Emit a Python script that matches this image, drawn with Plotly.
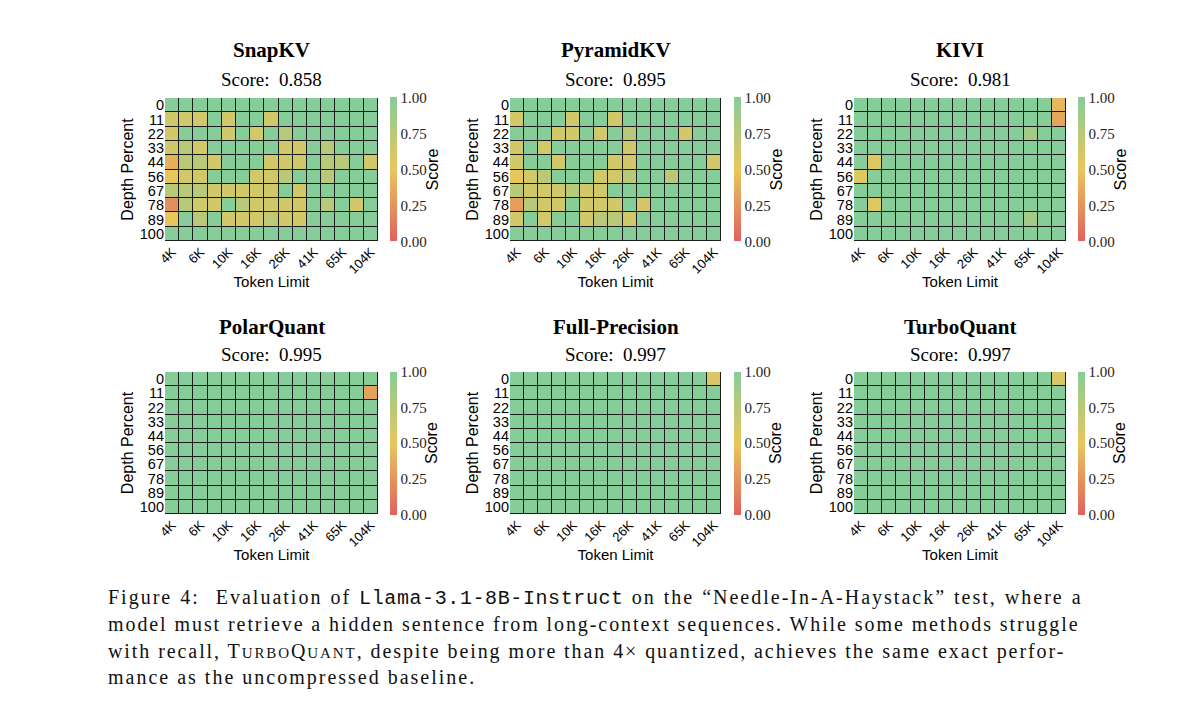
import plotly.graph_objects as go

# ---------------- data ----------------
token_limits = ["4K", "5K", "6K", "8K", "10K", "13K", "16K", "20K", "26K", "32K",
                "41K", "52K", "65K", "82K", "104K"]
x_tick_labels = ["4K", "6K", "10K", "16K", "26K", "41K", "65K", "104K"]
depth_percents = ["0", "11", "22", "33", "44", "56", "67", "78", "89", "100"]

methods = ["SnapKV", "PyramidKV", "KIVI", "PolarQuant", "Full-Precision", "TurboQuant"]
scores = ["0.858", "0.895", "0.981", "0.995", "0.997", "0.997"]

snapkv = [
    [1, 1, 1, 1, 1, 1, 1, 1, 1, 1, 1, 1, 1, 1, 1],
    [.62, .62, .62, 1, .62, 1, 1, .62, 1, 1, 1, 1, 1, 1, 1],
    [.62, 1, 1, 1, .62, 1, .62, 1, .75, 1, 1, 1, 1, 1, 1],
    [.62, .75, .62, 1, 1, 1, 1, 1, .62, .62, 1, .75, 1, 1, 1],
    [.38, .75, .75, .62, 1, 1, 1, .62, .62, .62, 1, .75, .75, 1, .62],
    [.5, .62, .62, 1, 1, 1, .62, .62, .75, 1, 1, .75, 1, 1, 1],
    [.75, .75, .75, .62, .62, .62, .62, .62, 1, .62, 1, 1, 1, 1, 1],
    [.22, .75, .62, .62, 1, .75, .62, .62, .62, .62, 1, .75, 1, .62, 1],
    [.5, 1, .75, 1, .62, .62, .62, .7, .62, .62, 1, 1, 1, 1, 1],
    [1, 1, 1, 1, 1, 1, 1, 1, 1, 1, 1, 1, 1, 1, 1],
]
pyramidkv = [
    [1, 1, 1, 1, 1, 1, 1, 1, 1, 1, 1, 1, 1, 1, 1],
    [.62, 1, 1, 1, .62, 1, 1, .62, 1, 1, 1, 1, 1, 1, 1],
    [1, 1, 1, .62, .62, 1, .62, 1, .75, 1, 1, 1, .62, 1, 1],
    [.62, 1, .62, 1, 1, 1, 1, 1, .62, 1, 1, 1, 1, 1, 1],
    [.62, 1, 1, .62, 1, 1, 1, .62, .62, 1, 1, 1, 1, 1, .62],
    [.5, .62, .75, 1, 1, 1, .62, .62, .75, 1, 1, .75, 1, 1, 1],
    [.75, .62, .62, .62, .75, .62, .62, 1, 1, 1, 1, 1, 1, 1, 1],
    [.3, .75, .62, .62, 1, .62, .62, .62, 1, .6, 1, 1, 1, 1, 1],
    [.62, 1, .62, 1, 1, .62, .75, .75, .62, 1, 1, 1, 1, 1, 1],
    [1, 1, 1, 1, 1, 1, 1, 1, 1, 1, 1, 1, 1, 1, 1],
]
kivi = [
    [1, 1, 1, 1, 1, 1, 1, 1, 1, 1, 1, 1, 1, 1, .42],
    [1, 1, 1, 1, 1, 1, 1, 1, 1, 1, 1, 1, 1, 1, .33],
    [1, 1, 1, 1, 1, 1, 1, 1, 1, 1, 1, 1, .85, 1, 1],
    [1, 1, 1, 1, 1, 1, 1, 1, 1, 1, 1, 1, 1, 1, 1],
    [1, .55, 1, 1, 1, 1, 1, 1, 1, 1, 1, 1, 1, 1, 1],
    [.55, 1, 1, 1, 1, 1, 1, 1, 1, 1, 1, 1, 1, 1, 1],
    [1, 1, 1, 1, 1, 1, 1, 1, 1, 1, 1, 1, 1, 1, 1],
    [1, .55, 1, 1, 1, 1, 1, 1, 1, 1, 1, 1, 1, 1, 1],
    [1, 1, 1, 1, 1, 1, 1, 1, 1, 1, 1, 1, .85, 1, 1],
    [1, 1, 1, 1, 1, 1, 1, 1, 1, 1, 1, 1, 1, 1, 1],
]
polarquant = [
    [1, 1, 1, 1, 1, 1, 1, 1, 1, 1, 1, 1, 1, 1, 1],
    [1, 1, 1, 1, 1, 1, 1, 1, 1, 1, 1, 1, 1, 1, .32],
    [1, 1, 1, 1, 1, 1, 1, 1, 1, 1, 1, 1, 1, 1, 1],
    [1, 1, 1, 1, 1, 1, 1, 1, 1, 1, 1, 1, 1, 1, 1],
    [1, 1, 1, 1, 1, 1, 1, 1, 1, 1, 1, 1, 1, 1, 1],
    [1, 1, 1, 1, 1, 1, 1, 1, 1, 1, 1, 1, 1, 1, 1],
    [1, 1, 1, 1, 1, 1, 1, 1, 1, 1, 1, 1, 1, 1, 1],
    [1, 1, 1, 1, 1, 1, 1, 1, 1, 1, 1, 1, 1, 1, 1],
    [1, 1, 1, 1, 1, 1, 1, 1, 1, 1, 1, 1, 1, 1, 1],
    [1, 1, 1, 1, 1, 1, 1, 1, 1, 1, 1, 1, 1, 1, 1],
]
full_precision = [
    [1, 1, 1, 1, 1, 1, 1, 1, 1, 1, 1, 1, 1, 1, .58],
    [1, 1, 1, 1, 1, 1, 1, 1, 1, 1, 1, 1, 1, 1, 1],
    [1, 1, 1, 1, 1, 1, 1, 1, 1, 1, 1, 1, 1, 1, 1],
    [1, 1, 1, 1, 1, 1, 1, 1, 1, 1, 1, 1, 1, 1, 1],
    [1, 1, 1, 1, 1, 1, 1, 1, 1, 1, 1, 1, 1, 1, 1],
    [1, 1, 1, 1, 1, 1, 1, 1, 1, 1, 1, 1, 1, 1, 1],
    [1, 1, 1, 1, 1, 1, 1, 1, 1, 1, 1, 1, 1, 1, 1],
    [1, 1, 1, 1, 1, 1, 1, 1, 1, 1, 1, 1, 1, 1, 1],
    [1, 1, 1, 1, 1, 1, 1, 1, 1, 1, 1, 1, 1, 1, 1],
    [1, 1, 1, 1, 1, 1, 1, 1, 1, 1, 1, 1, 1, 1, 1],
]
turboquant = [
    [1, 1, 1, 1, 1, 1, 1, 1, 1, 1, 1, 1, 1, 1, .58],
    [1, 1, 1, 1, 1, 1, 1, 1, 1, 1, 1, 1, 1, 1, 1],
    [1, 1, 1, 1, 1, 1, 1, 1, 1, 1, 1, 1, 1, 1, 1],
    [1, 1, 1, 1, 1, 1, 1, 1, 1, 1, 1, 1, 1, 1, 1],
    [1, 1, 1, 1, 1, 1, 1, 1, 1, 1, 1, 1, 1, 1, 1],
    [1, 1, 1, 1, 1, 1, 1, 1, 1, 1, 1, 1, 1, 1, 1],
    [1, 1, 1, 1, 1, 1, 1, 1, 1, 1, 1, 1, 1, 1, 1],
    [1, 1, 1, 1, 1, 1, 1, 1, 1, 1, 1, 1, 1, 1, 1],
    [1, 1, 1, 1, 1, 1, 1, 1, 1, 1, 1, 1, 1, 1, 1],
    [1, 1, 1, 1, 1, 1, 1, 1, 1, 1, 1, 1, 1, 1, 1],
]
matrices = [snapkv, pyramidkv, kivi, polarquant, full_precision, turboquant]

# ---------------- layout helpers (pixels) ----------------
W, H = 1200, 721
col_x = [(165, 378), (510, 721), (854, 1066)]
cb_left = [390, 734, 1078]
row_y = [(98, 241), (372, 514)]
title_y = [(50, 80), (327, 354)]

colorscale = [[0.0, "#E0625F"], [0.5, "#E9C65B"], [1.0, "#86CD99"]]
SERIF = "Liberation Serif"
SANS = "Liberation Sans"

def px_x(v):
    return v / W

def px_y(v):
    return 1 - v / H

fig = go.Figure()
annotations = []
layout_axes = {}

for i, (name, z, score) in enumerate(zip(methods, matrices, scores)):
    r, c = divmod(i, 3)
    x0, x1 = col_x[c]
    ytop, ybot = row_y[r]
    n = i + 1
    xa = "x" if n == 1 else f"x{n}"
    ya = "y" if n == 1 else f"y{n}"
    fig.add_trace(go.Heatmap(
        z=z, x=token_limits, y=depth_percents,
        xaxis=xa, yaxis=ya,
        zmin=0, zmax=1, colorscale=colorscale,
        xgap=1, ygap=1,
        colorbar=dict(
            x=px_x(cb_left[c]), xanchor="left",
            y=(px_y(ytop) + px_y(ybot)) / 2, yanchor="middle",
            len=(ybot - ytop + 1) / H, lenmode="fraction",
            thickness=7, thicknessmode="pixels",
            xpad=0, ypad=0, outlinewidth=0,
            tickvals=[0, 0.25, 0.5, 0.75, 1.0],
            ticktext=["0.00", "0.25", "0.50", "0.75", "1.00"],
            ticks="", ticklen=0,
            tickfont=dict(family=SERIF, size=15, color="#222"),
        ),
    ))
    xkey = "xaxis" if n == 1 else f"xaxis{n}"
    ykey = "yaxis" if n == 1 else f"yaxis{n}"
    layout_axes[xkey] = dict(
        domain=[px_x(x0), px_x(x1)], anchor=ya, automargin=False,
        tickmode="array", tickvals=x_tick_labels, ticktext=x_tick_labels,
        tickangle=-45, tickfont=dict(family=SANS, size=13, color="#000"),
        title=dict(text="Token Limit", font=dict(family=SANS, size=15, color="#000"),
                   standoff=0),
        showgrid=False, zeroline=False, showline=False, ticks="",
    )
    layout_axes[ykey] = dict(
        domain=[px_y(ybot), px_y(ytop)], anchor=xa, automargin=False,
        autorange="reversed",
        tickmode="array", tickvals=depth_percents, ticktext=depth_percents,
        tickfont=dict(family=SANS, size=14.5, color="#000"),
        title=dict(text="Depth Percent", font=dict(family=SANS, size=16, color="#000"),
                   standoff=2),
        showgrid=False, zeroline=False, showline=False, ticks="",
    )
    cx = px_x((x0 + x1) / 2)
    annotations.append(dict(
        text=f"<b>{name}</b>", x=cx, y=px_y(title_y[r][0]), xref="paper", yref="paper",
        xanchor="center", yanchor="middle", showarrow=False,
        font=dict(family=SERIF, size=21, color="#000")))
    annotations.append(dict(
        text=f"Score:  {score}", x=cx, y=px_y(title_y[r][1]), xref="paper", yref="paper",
        xanchor="center", yanchor="middle", showarrow=False,
        font=dict(family=SERIF, size=19, color="#000")))
    # colorbar title "Score"
    annotations.append(dict(
        text="Score", x=px_x(cb_left[c] + 42), y=(px_y(ytop) + px_y(ybot)) / 2,
        xref="paper", yref="paper", xanchor="center", yanchor="middle",
        textangle=-90, showarrow=False,
        font=dict(family=SANS, size=16, color="#000")))

LS = "<span style=\"letter-spacing:{ls}px;word-spacing:{ws}px\">"
MONO = "<span style=\"font-family:'Liberation Mono';letter-spacing:0.6px\">"
SC = "<span style=\"font-size:15px;letter-spacing:1.9px\">"
caption_lines = [
    LS.format(ls=2, ws=1) + "Figure 4:  Evaluation of </span>" + MONO + "Llama-3.1-8B-Instruct</span>"
    + LS.format(ls=2, ws=1) + " on the \u201cNeedle-In-A-Haystack\u201d test, where a</span>",
    LS.format(ls=1.92, ws=0) + "model must retrieve a hidden sentence from long-context sequences. While some methods struggle</span>",
    LS.format(ls=1.92, ws=0) + "with recall, T</span>" + SC + "URBO</span>" + LS.format(ls=1.92, ws=0) + "Q</span>"
    + SC + "UANT</span>"
    + LS.format(ls=1.92, ws=0) + ", despite being more than 4\u00d7 quantized, achieves the same exact perfor-</span>",
    LS.format(ls=2, ws=0) + "mance as the uncompressed baseline.</span>",
]
caption_y = [598, 624, 651, 677]
for line, yy in zip(caption_lines, caption_y):
    annotations.append(dict(
        text=line, x=px_x(106), y=px_y(yy), xref="paper", yref="paper",
        xanchor="left", yanchor="middle", showarrow=False, align="left",
        font=dict(family=SERIF, size=20, color="#111")))

fig.update_layout(
    width=W, height=H,
    margin=dict(l=0, r=0, t=0, b=0, autoexpand=False),
    paper_bgcolor="white", plot_bgcolor="#1c1c1c",
    annotations=annotations,
    **layout_axes,
)

fig.write_html("out.html")
